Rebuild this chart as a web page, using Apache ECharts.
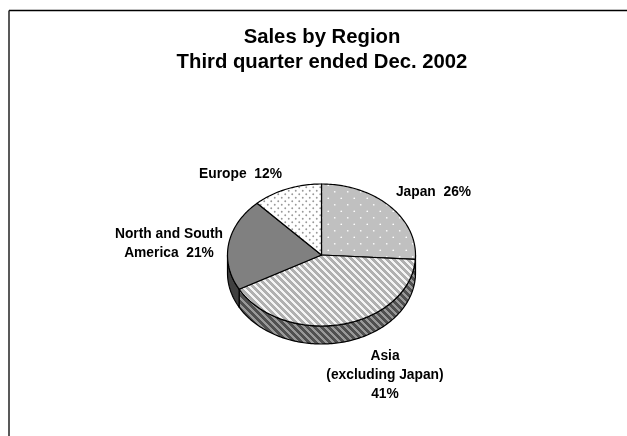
<!DOCTYPE html>
<html><head><meta charset="utf-8">
<style>html,body{margin:0;padding:0;background:#fff}#c{width:627px;height:436px}</style>
<script src="https://cdn.jsdelivr.net/npm/echarts@6/dist/echarts.min.js"></script>
</head><body><div id="c"></div>
<script>
const categories = ['Japan', 'Asia (excluding Japan)', 'North and South America', 'Europe'];
const values = [26, 41, 21, 12];
const labels = ['Japan  26%', 'Asia\n(excluding Japan)\n41%', 'North and South\nAmerica  21%', 'Europe  12%'];
const titleLines = ['Sales by Region', 'Third quarter ended Dec. 2002'];

const labelPos = [[433.5, 192], [385, 375], [169, 243.5], [240.5, 174.5]];
const CX = 321.5, CY = 255, RX = 94, RY = 71, DEPTH = 18;

function tile(w, h, bg, draw) {
  const c = document.createElement('canvas');
  c.width = w; c.height = h;
  const g = c.getContext('2d');
  g.fillStyle = bg; g.fillRect(0, 0, w, h);
  draw(g);
  return { image: c, repeat: 'repeat' };
}
function dots(w, h, bg, dot, r) {
  return tile(w, h, bg, g => {
    g.fillStyle = dot;
    [[w / 4, h / 4], [3 * w / 4, 3 * h / 4]].forEach(p => {
      g.beginPath(); g.arc(p[0], p[1], r, 0, Math.PI * 2); g.fill();
    });
  });
}
function stripes(n, bg, fg) {
  return tile(n, n, bg, g => {
    g.fillStyle = fg;
    for (let y = 0; y < n; y++) for (let x = 0; x < n; x++)
      if ((x - y + n) % n < n / 2) g.fillRect(x, y, 1, 1);
  });
}
const topFills = [
  dots(13, 13, '#c0c0c0', '#ffffff', 0.85),
  stripes(7, '#f4f4f4', '#b0b0b0'),
  '#808080',
  dots(7, 7, '#ffffff', '#999999', 0.95)
];
const sideFills = ['#111111', stripes(7, '#999999', '#505050'), '#404040', '#333333'];

const total = values.reduce((a, b) => a + b, 0);
const pt = (t, dy) => [CX + RX * Math.sin(t), CY + dy - RY * Math.cos(t)];
function arc(a, b, dy) {
  const out = [], n = Math.max(2, Math.ceil((b - a) / 0.02));
  for (let i = 0; i <= n; i++) out.push(pt(a + (b - a) * i / n, dy));
  return out;
}
const lineStyle = { stroke: '#000', lineWidth: 1.2, lineJoin: 'round' };

function renderItem(params, api) {
  const i = params.dataIndex;
  let before = 0;
  for (let k = 0; k < i; k++) before += values[k];
  const a = before / total * 2 * Math.PI;
  const b = a + api.value(0) / total * 2 * Math.PI;
  const children = [];
  const sa = Math.max(a, Math.PI / 2), sb = Math.min(b, 3 * Math.PI / 2);
  if (sb > sa) {
    children.push({
      type: 'polygon', z2: 1,
      shape: { points: arc(sa, sb, 0).concat(arc(sa, sb, DEPTH).reverse()) },
      style: Object.assign({ fill: sideFills[i] }, lineStyle)
    });
  }
  children.push({
    type: 'polygon', z2: 2,
    shape: { points: [[CX, CY]].concat(arc(a, b, 0)) },
    style: Object.assign({ fill: topFills[i] }, lineStyle)
  });
  children.push({
    type: 'text', z2: 3,
    style: {
      text: labels[i], x: labelPos[i][0], y: labelPos[i][1],
      align: 'center', verticalAlign: 'middle',
      font: 'bold 13.8px "Liberation Sans", Arial, sans-serif',
      lineHeight: 19, fill: '#000'
    }
  });
  return { type: 'group', children };
}

echarts.init(document.getElementById('c'), null, { renderer: 'canvas' }).setOption({
  animation: false,
  backgroundColor: '#fff',
  title: {
    text: titleLines.join('\n'), left: 317, top: 20, textAlign: 'center',
    textStyle: { fontFamily: '"Liberation Sans", Arial, sans-serif', fontWeight: 'bold', fontSize: 20.3, lineHeight: 25, color: '#000' }
  },
  graphic: [
    { type: 'line', shape: { x1: 9, y1: 10.5, x2: 627, y2: 10.5 }, style: { stroke: '#000', lineWidth: 1.5 } },
    { type: 'line', shape: { x1: 9, y1: 10.5, x2: 9, y2: 436 }, style: { stroke: '#222', lineWidth: 1.5 } }
  ],
  series: [{
    type: 'custom', coordinateSystem: 'none', renderItem,
    data: values.map((v, i) => ({ name: categories[i], value: [v] }))
  }]
});
</script></body></html>
